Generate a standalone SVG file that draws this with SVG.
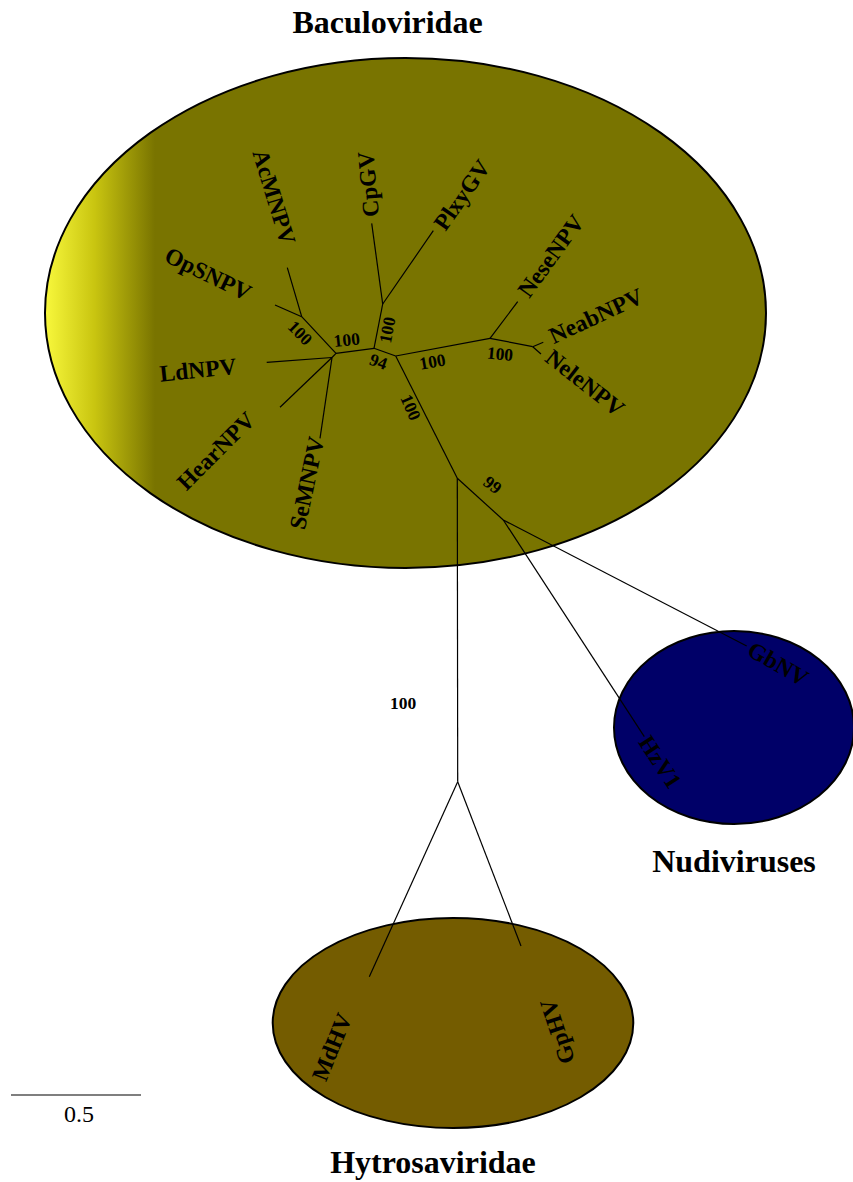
<svg xmlns="http://www.w3.org/2000/svg" width="853" height="1182" viewBox="0 0 853 1182">
<defs>
<linearGradient id="bacGrad" gradientUnits="userSpaceOnUse" x1="45" y1="0" x2="155" y2="0">
<stop offset="0" stop-color="#f8f83c"/>
<stop offset="0.45" stop-color="#c9c510"/>
<stop offset="1" stop-color="#797400"/>
</linearGradient>
<style>
.clade{stroke:#000;stroke-width:2}
.title{font-family:"Liberation Serif","Times New Roman",serif;font-weight:bold;font-size:32px;fill:#000;text-anchor:middle}
.leaf{font-family:"Liberation Serif","Times New Roman",serif;font-weight:bold;font-size:23.5px;fill:#000;text-anchor:middle}
.boot{font-family:"Liberation Serif","Times New Roman",serif;font-weight:bold;font-size:17.5px;fill:#000;text-anchor:middle}
.scale{font-family:"Liberation Serif","Times New Roman",serif;font-size:24px;fill:#000;text-anchor:middle}
#connectors line{stroke:#000;stroke-width:1.2;fill:none}
</style>
</defs>
<rect width="853" height="1182" fill="#fff"/>

<g id="baculoviridae">
<ellipse class="clade" cx="405.5" cy="313" rx="360.5" ry="255" fill="url(#bacGrad)"/>
<text class="title" x="387.5" y="33">Baculoviridae</text>
</g>
<g id="nudiviruses">
<ellipse class="clade" cx="734" cy="727.5" rx="120" ry="96.5" fill="#000068"/>
<text class="title" x="734" y="872">Nudiviruses</text>
</g>
<g id="hytrosaviridae">
<ellipse class="clade" cx="453" cy="1023" rx="180.3" ry="105" fill="#745c00"/>
<text class="title" x="433" y="1173">Hytrosaviridae</text>
</g>

<g id="connectors">
<line x1="301.7" y1="316.7" x2="287.3" y2="267.7"/>
<line x1="301.7" y1="316.7" x2="275" y2="305"/>
<line x1="301.7" y1="316.7" x2="336" y2="353.3"/>
<line x1="336" y1="353.3" x2="332" y2="357.5"/>
<line x1="332" y1="357.5" x2="266.7" y2="362.3"/>
<line x1="332" y1="357.5" x2="280" y2="407.3"/>
<line x1="332" y1="357.5" x2="320" y2="438.3"/>
<line x1="336" y1="353.3" x2="374" y2="348.3"/>
<line x1="374" y1="348.3" x2="382.7" y2="304"/>
<line x1="382.7" y1="304" x2="371.7" y2="223.3"/>
<line x1="382.7" y1="304" x2="433.3" y2="230.7"/>
<line x1="374" y1="348.3" x2="395.7" y2="356"/>
<line x1="395.7" y1="356" x2="490" y2="338.3"/>
<line x1="490" y1="338.3" x2="517.7" y2="301.7"/>
<line x1="490" y1="338.3" x2="532.7" y2="346.7"/>
<line x1="532.7" y1="346.7" x2="543.3" y2="342.3"/>
<line x1="532.7" y1="346.7" x2="541" y2="354"/>
<line x1="395.7" y1="356" x2="457.3" y2="478.3"/>
<line x1="457.3" y1="478.3" x2="503.3" y2="520"/>
<line x1="503.3" y1="520" x2="746.7" y2="646"/>
<line x1="503.3" y1="520" x2="644.3" y2="736.7"/>
<line x1="457.3" y1="478.3" x2="457.7" y2="781.7"/>
<line x1="457.7" y1="781.7" x2="369.3" y2="976.7"/>
<line x1="457.7" y1="781.7" x2="521" y2="946"/>
</g>

<g id="bootstrap">
<text class="boot" transform="translate(300,333) rotate(45)" dy="0.33em">100</text>
<text class="boot" transform="translate(346.7,340) rotate(-6)" dy="0.33em">100</text>
<text class="boot" transform="translate(387.5,330) rotate(-79)" dy="0.33em">100</text>
<text class="boot" transform="translate(378.3,361.7) rotate(19)" dy="0.33em">94</text>
<text class="boot" transform="translate(432.5,361.7) rotate(-10)" dy="0.33em">100</text>
<text class="boot" transform="translate(500,354) rotate(5)" dy="0.33em">100</text>
<text class="boot" transform="translate(410.5,407.5) rotate(66)" dy="0.33em">100</text>
<text class="boot" transform="translate(492.5,485) rotate(38)" dy="0.33em">99</text>
<text class="boot" x="403" y="709">100</text>
</g>

<g id="leaf-AcMNPV"><text class="leaf" transform="translate(274,197) rotate(73)" dy="0.33em">AcMNPV</text></g>
<g id="leaf-CpGV"><text class="leaf" transform="translate(368.3,184.3) rotate(-95)" dy="0.33em">CpGV</text></g>
<g id="leaf-PlxyGV"><text class="leaf" transform="translate(462,195) rotate(-55)" dy="0.33em">PlxyGV</text></g>
<g id="leaf-NeseNPV"><text class="leaf" transform="translate(551,256) rotate(-54)" dy="0.33em">NeseNPV</text></g>
<g id="leaf-NeabNPV"><text class="leaf" transform="translate(596,316) rotate(-25)" dy="0.33em">NeabNPV</text></g>
<g id="leaf-NeleNPV"><text class="leaf" transform="translate(585,383) rotate(38)" dy="0.33em">NeleNPV</text></g>
<g id="leaf-OpSNPV"><text class="leaf" transform="translate(208,274) rotate(26)" dy="0.33em">OpSNPV</text></g>
<g id="leaf-LdNPV"><text class="leaf" transform="translate(198,370) rotate(-6)" dy="0.33em">LdNPV</text></g>
<g id="leaf-HearNPV"><text class="leaf" transform="translate(216,451) rotate(-45)" dy="0.33em">HearNPV</text></g>
<g id="leaf-SeMNPV"><text class="leaf" transform="translate(307,483) rotate(-78)" dy="0.33em">SeMNPV</text></g>
<g id="leaf-GbNV"><text class="leaf" transform="translate(778,664) rotate(30)" dy="0.33em">GbNV</text></g>
<g id="leaf-HzV1"><text class="leaf" transform="translate(660,762) rotate(57)" dy="0.33em">HzV1</text></g>
<g id="leaf-MdHV"><text class="leaf" transform="translate(332,1047) rotate(-68)" dy="0.33em">MdHV</text></g>
<g id="leaf-GpHV"><text class="leaf" transform="translate(557.5,1031.5) rotate(-108)" dy="0.33em">GpHV</text></g>

<g id="scalebar">
<line x1="11" y1="1095" x2="141" y2="1095" stroke="#000" stroke-width="1.2"/>
<text class="scale" x="79" y="1122">0.5</text>
</g>
</svg>
